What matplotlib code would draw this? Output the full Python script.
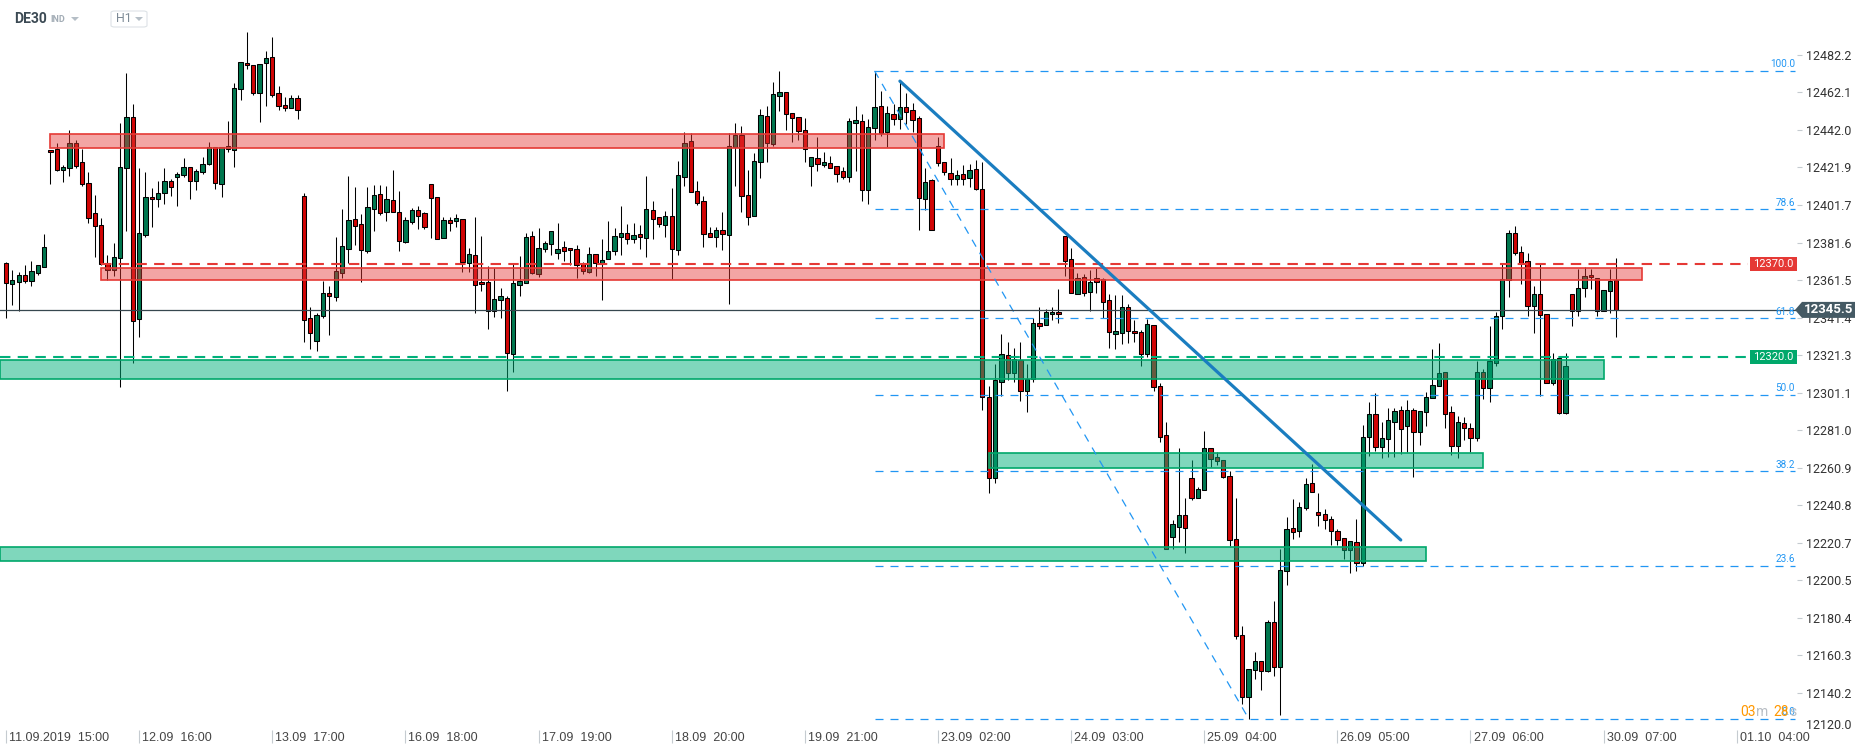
import matplotlib
matplotlib.use('Agg')
import matplotlib.pyplot as plt
from matplotlib.patches import Rectangle, Polygon, FancyBboxPatch
import numpy as np

# DE30 H1 candles, 11.09.2019 15:00 -> 30.09.2019 09:00
opens = [
    12370.5, 12359.2, 12360.6, 12364.0, 12360.8, 12365.1, 12368.7, 12431.3, 12431.8, 12420.4,
    12421.4, 12434.8, 12424.7, 12413.4, 12397.3, 12390.9, 12370.5, 12366.7, 12373.2, 12421.4,
    12448.8, 12340.4, 12385.5, 12405.9, 12404.8, 12408.0, 12414.5, 12417.0, 12417.7, 12422.1,
    12414.8, 12419.3, 12423.6, 12432.7, 12412.9, 12431.8, 12431.3, 12463.8, 12477.9, 12476.7,
    12461.7, 12477.8, 12481.0, 12461.7, 12455.2, 12454.0, 12459.0, 12406.6, 12341.0, 12329.0,
    12342.0, 12354.4, 12352.2, 12365.1, 12378.3, 12394.1, 12391.4, 12377.3, 12399.8, 12407.5,
    12397.8, 12404.3, 12397.8, 12382.1, 12392.8, 12399.1, 12397.5, 12412.9, 12405.9, 12384.2,
    12393.7, 12393.0, 12394.1, 12370.8, 12374.9, 12360.5, 12360.5, 12344.9, 12350.6, 12351.9,
    12322.0, 12359.0, 12360.1, 12385.0, 12364.9, 12378.2, 12381.0, 12375.8, 12379.1, 12378.5,
    12378.0, 12369.9, 12365.6, 12375.3, 12370.3, 12372.6, 12376.9, 12384.4, 12386.6, 12383.7,
    12386.0, 12383.9, 12398.9, 12395.3, 12391.2, 12395.7, 12377.8, 12417.0, 12435.9, 12409.1,
    12403.7, 12386.6, 12384.8, 12388.2, 12385.9, 12432.7, 12439.1, 12406.9, 12396.0, 12424.7,
    12449.3, 12434.7, 12460.1, 12462.4, 12450.9, 12448.8, 12441.8, 12422.7, 12426.8, 12423.1,
    12424.5, 12422.9, 12419.8, 12417.0, 12445.8, 12446.7, 12409.9, 12443.2, 12455.0, 12441.0,
    12450.7, 12448.1, 12454.5, 12452.6, 12448.6, 12405.1, 12415.0, 12433.5, 12425.0, 12419.1,
    12415.8, 12418.6, 12416.2, 12421.2, 12410.6, 12298.8, 12255.3, 12306.8, 12321.2, 12311.6,
    12318.7, 12301.9, 12308.5, 12338.5, 12337.6, 12343.2, 12344.2, 12385.3, 12373.0, 12354.1,
    12363.1, 12355.3, 12362.4, 12361.9, 12350.8, 12332.6, 12333.1, 12346.8, 12334.2, 12333.8,
    12321.7, 12337.5, 12304.9, 12278.5, 12223.7, 12229.3, 12235.5, 12255.3, 12244.5, 12248.7,
    12271.4, 12266.7, 12265.2, 12256.2, 12222.6, 12171.3, 12138.1, 12152.4, 12157.2, 12151.7,
    12178.2, 12153.9, 12205.7, 12228.4, 12226.8, 12239.5, 12252.6, 12237.1, 12236.2, 12233.1,
    12226.8, 12223.0, 12216.8, 12221.1, 12209.5, 12277.3, 12289.7, 12271.9, 12276.4, 12285.3,
    12291.9, 12283.0, 12291.9, 12279.9, 12290.8, 12298.2, 12304.8, 12312.0, 12290.6, 12272.4,
    12284.8, 12282.4, 12276.6, 12312.2, 12303.5, 12317.1, 12342.2, 12361.5, 12386.9, 12376.8,
    12371.5, 12347.5, 12354.2, 12343.5, 12306.2, 12319.9, 12290.4, 12354.2, 12344.8, 12357.0,
    12364.4, 12362.6, 12344.8, 12355.9, 12361.7,
]
highs = [
    12371.4, 12366.9, 12365.6, 12369.4, 12371.7, 12369.4, 12386.2, 12431.3, 12434.8, 12423.0,
    12442.0, 12436.6, 12431.6, 12419.3, 12407.1, 12394.6, 12374.9, 12381.2, 12445.6, 12472.6,
    12455.8, 12421.6, 12419.3, 12410.7, 12414.6, 12421.4, 12415.9, 12419.5, 12427.0, 12422.1,
    12421.3, 12427.3, 12435.4, 12432.7, 12432.7, 12447.0, 12467.0, 12478.3, 12494.6, 12476.7,
    12477.4, 12484.2, 12491.9, 12465.4, 12459.5, 12460.8, 12460.8, 12408.4, 12346.9, 12344.0,
    12361.2, 12358.5, 12384.4, 12399.6, 12417.5, 12411.6, 12396.9, 12411.6, 12412.7, 12412.5,
    12412.1, 12420.5, 12409.3, 12395.5, 12400.3, 12401.4, 12398.0, 12412.9, 12405.9, 12395.5,
    12395.3, 12396.9, 12394.4, 12378.7, 12395.5, 12385.1, 12369.0, 12367.8, 12357.4, 12353.1,
    12370.1, 12374.4, 12386.9, 12388.0, 12389.4, 12382.6, 12387.8, 12392.3, 12382.5, 12378.5,
    12380.3, 12371.2, 12379.1, 12375.3, 12383.5, 12393.2, 12389.2, 12401.4, 12391.6, 12392.3,
    12391.0, 12417.3, 12403.9, 12395.3, 12398.5, 12410.7, 12425.2, 12440.9, 12440.2, 12414.5,
    12406.6, 12389.8, 12390.0, 12398.0, 12440.2, 12445.7, 12444.1, 12420.5, 12429.5, 12453.3,
    12454.9, 12467.6, 12473.6, 12462.4, 12450.9, 12448.8, 12448.4, 12427.3, 12438.2, 12430.0,
    12428.3, 12422.9, 12422.4, 12448.6, 12454.8, 12450.5, 12448.1, 12473.7, 12463.0, 12455.0,
    12455.9, 12468.2, 12461.6, 12456.2, 12449.6, 12421.7, 12415.8, 12438.2, 12425.0, 12426.9,
    12420.3, 12423.3, 12423.6, 12425.9, 12425.0, 12304.5, 12316.5, 12332.8, 12328.1, 12324.8,
    12328.1, 12316.3, 12341.3, 12346.8, 12346.1, 12346.8, 12356.5, 12385.3, 12378.7, 12365.4,
    12365.0, 12366.9, 12367.8, 12362.6, 12354.1, 12353.6, 12353.6, 12348.4, 12339.9, 12334.7,
    12340.4, 12337.5, 12306.4, 12285.6, 12232.6, 12271.4, 12244.5, 12265.0, 12250.4, 12280.4,
    12271.4, 12269.3, 12265.2, 12259.0, 12244.4, 12175.9, 12152.8, 12162.2, 12157.2, 12179.0,
    12189.3, 12217.1, 12234.4, 12244.0, 12242.6, 12255.3, 12262.6, 12247.3, 12238.9, 12234.9,
    12228.0, 12223.0, 12221.7, 12233.5, 12283.9, 12296.2, 12300.8, 12285.3, 12292.8, 12293.0,
    12293.9, 12297.1, 12293.1, 12291.3, 12301.7, 12324.4, 12328.0, 12312.0, 12294.0, 12288.8,
    12288.1, 12285.1, 12317.9, 12314.0, 12337.1, 12344.4, 12370.8, 12388.4, 12390.4, 12380.0,
    12375.9, 12358.4, 12370.2, 12343.5, 12322.6, 12319.9, 12322.6, 12354.2, 12367.5, 12368.4,
    12367.5, 12362.6, 12356.4, 12367.5, 12373.1,
]
lows = [
    12341.3, 12348.1, 12344.9, 12359.7, 12358.5, 12364.2, 12368.7, 12413.2, 12420.2, 12414.3,
    12417.5, 12421.4, 12412.1, 12391.9, 12373.7, 12369.6, 12361.5, 12363.9, 12304.3, 12388.0,
    12316.8, 12331.1, 12384.8, 12389.8, 12400.9, 12402.5, 12406.8, 12401.4, 12417.0, 12405.2,
    12409.8, 12418.4, 12423.0, 12410.2, 12405.9, 12430.0, 12422.3, 12457.9, 12474.9, 12460.8,
    12446.5, 12455.0, 12459.9, 12452.5, 12452.4, 12453.6, 12448.1, 12328.5, 12324.3, 12323.6,
    12341.3, 12332.2, 12350.5, 12362.4, 12370.5, 12380.1, 12360.5, 12376.2, 12388.0, 12396.2,
    12393.2, 12397.8, 12377.3, 12381.6, 12391.4, 12388.9, 12388.9, 12384.1, 12383.7, 12384.2,
    12388.0, 12390.1, 12366.0, 12366.0, 12344.0, 12355.8, 12335.4, 12341.9, 12341.3, 12302.2,
    12312.4, 12353.1, 12360.1, 12364.8, 12363.3, 12376.7, 12374.9, 12372.6, 12371.9, 12369.4,
    12362.8, 12364.8, 12365.5, 12363.7, 12350.8, 12372.6, 12375.1, 12374.8, 12381.0, 12381.2,
    12378.3, 12373.9, 12383.5, 12390.0, 12384.8, 12362.1, 12374.9, 12412.1, 12408.6, 12401.8,
    12379.2, 12384.4, 12379.2, 12377.8, 12348.7, 12412.1, 12398.0, 12391.2, 12396.0, 12416.4,
    12424.8, 12433.4, 12452.2, 12442.0, 12435.7, 12436.6, 12425.0, 12412.1, 12420.0, 12421.9,
    12421.7, 12413.9, 12415.8, 12414.1, 12419.8, 12403.9, 12402.1, 12436.8, 12438.7, 12432.8,
    12444.8, 12442.7, 12445.1, 12441.0, 12388.1, 12399.2, 12388.4, 12422.9, 12417.9, 12412.7,
    12412.7, 12412.7, 12411.5, 12409.9, 12291.7, 12247.3, 12252.7, 12299.3, 12307.8, 12306.8,
    12296.7, 12290.5, 12307.1, 12335.2, 12337.3, 12340.1, 12338.3, 12363.8, 12354.6, 12353.9,
    12352.7, 12344.9, 12354.8, 12340.9, 12325.0, 12324.3, 12327.2, 12327.6, 12328.1, 12315.3,
    12320.1, 12302.1, 12274.7, 12217.3, 12217.3, 12220.8, 12214.9, 12243.3, 12244.5, 12248.7,
    12261.0, 12262.2, 12255.5, 12219.0, 12169.0, 12134.4, 12126.3, 12147.7, 12141.5, 12151.3,
    12149.0, 12128.1, 12198.1, 12222.6, 12223.9, 12238.4, 12247.7, 12229.7, 12228.0, 12219.5,
    12219.5, 12212.1, 12204.4, 12205.3, 12208.1, 12267.1, 12269.7, 12266.2, 12266.8, 12266.8,
    12268.1, 12269.1, 12255.7, 12272.8, 12283.0, 12298.2, 12304.8, 12282.2, 12267.7, 12265.9,
    12275.9, 12269.1, 12275.3, 12297.5, 12295.9, 12315.3, 12335.0, 12352.6, 12375.0, 12359.3,
    12342.2, 12333.3, 12299.3, 12306.2, 12305.3, 12289.5, 12289.5, 12337.1, 12342.2, 12352.6,
    12356.8, 12342.0, 12344.8, 12343.9, 12331.0,
]
closes = [
    12359.7, 12361.4, 12364.0, 12360.8, 12366.2, 12369.4, 12379.1, 12430.2, 12420.7, 12422.1,
    12434.8, 12422.9, 12412.9, 12395.0, 12390.3, 12369.9, 12366.7, 12373.7, 12422.0, 12448.8,
    12339.4, 12386.6, 12405.9, 12404.8, 12408.0, 12414.5, 12411.2, 12418.2, 12422.1, 12414.5,
    12419.8, 12423.6, 12432.7, 12413.4, 12432.7, 12433.2, 12464.3, 12478.3, 12476.7, 12461.7,
    12477.4, 12480.4, 12460.6, 12454.7, 12454.0, 12459.0, 12452.5, 12339.9, 12332.9, 12342.8,
    12354.4, 12352.8, 12366.2, 12379.6, 12393.7, 12390.3, 12377.4, 12400.5, 12407.1, 12397.3,
    12404.8, 12398.0, 12382.3, 12393.7, 12399.1, 12396.0, 12390.1, 12405.7, 12383.7, 12393.7,
    12392.3, 12394.8, 12371.0, 12375.3, 12359.0, 12359.2, 12345.1, 12351.2, 12353.0, 12322.6,
    12359.9, 12361.0, 12384.6, 12365.5, 12378.5, 12381.4, 12387.8, 12378.0, 12377.3, 12377.5,
    12369.4, 12366.2, 12375.3, 12370.8, 12372.3, 12377.1, 12385.1, 12386.6, 12383.7, 12385.5,
    12384.4, 12399.4, 12394.1, 12391.4, 12395.7, 12378.3, 12417.7, 12434.8, 12408.6, 12402.7,
    12386.0, 12384.4, 12388.2, 12386.4, 12433.2, 12439.1, 12406.4, 12395.5, 12425.2, 12449.9,
    12435.2, 12461.1, 12462.4, 12450.4, 12448.3, 12441.3, 12431.6, 12427.3, 12423.6, 12425.0,
    12421.7, 12418.6, 12417.0, 12446.7, 12447.2, 12409.9, 12443.4, 12454.5, 12440.6, 12451.0,
    12447.7, 12454.5, 12451.7, 12447.4, 12405.6, 12414.3, 12388.4, 12424.5, 12419.3, 12415.8,
    12417.9, 12415.8, 12420.7, 12410.3, 12298.8, 12255.1, 12308.0, 12322.0, 12311.6, 12319.1,
    12301.9, 12308.5, 12338.5, 12336.6, 12344.2, 12344.2, 12343.2, 12371.8, 12354.6, 12362.6,
    12354.6, 12360.7, 12360.2, 12349.8, 12333.8, 12334.2, 12346.8, 12334.2, 12333.1, 12321.7,
    12337.8, 12304.0, 12277.5, 12217.3, 12230.5, 12235.5, 12228.8, 12244.5, 12249.7, 12271.4,
    12265.7, 12264.3, 12256.0, 12221.9, 12170.8, 12138.1, 12152.8, 12157.2, 12152.1, 12178.2,
    12154.1, 12206.2, 12228.0, 12226.2, 12239.9, 12252.2, 12247.7, 12235.3, 12232.6, 12226.8,
    12221.9, 12216.8, 12221.7, 12209.5, 12277.1, 12289.7, 12271.9, 12276.6, 12286.4, 12291.3,
    12281.7, 12291.9, 12279.9, 12291.3, 12298.9, 12305.3, 12311.7, 12289.7, 12272.6, 12285.3,
    12282.0, 12276.8, 12312.2, 12303.7, 12317.9, 12342.4, 12362.2, 12386.6, 12376.2, 12370.9,
    12347.5, 12354.2, 12343.0, 12306.2, 12319.3, 12290.2, 12315.5, 12344.8, 12357.0, 12363.9,
    12363.3, 12344.8, 12356.4, 12360.8, 12345.5,
]

x_ticks = [0, 21, 42, 63, 84, 105, 126, 147, 168, 189, 210, 231, 252, 273]
x_labels = ['11.09.2019  15:00', '12.09  16:00', '13.09  17:00', '16.09  18:00',
            '17.09  19:00', '18.09  20:00', '19.09  21:00', '23.09  02:00',
            '24.09  03:00', '25.09  04:00', '26.09  05:00', '27.09  06:00',
            '30.09  07:00', '01.10  04:00']
y_ticks = [12482.2, 12462.1, 12442.0, 12421.9, 12401.7, 12381.6, 12361.5, 12341.4,
           12321.3, 12301.1, 12281.0, 12260.9, 12240.8, 12220.7, 12200.5, 12180.4,
           12160.3, 12140.2]
y_bottom_label = 12120.0

# zones: (start bar, end bar, low, high)
red_zones = [(7, 148, 12432.2, 12439.7), (15, 258, 12361.4, 12367.8)]
green_zones = [(-0.9, 252, 12308.3, 12318.6), (155, 233, 12260.8, 12269.0),
               (-0.9, 224, 12210.7, 12218.5)]
res_level = 12370.0
sup_level = 12320.0
trend_x = [141, 220]
trend_y = [12468.2, 12222.1]
fib_ratios = [0.0, 23.6, 38.2, 50.0, 61.8, 78.6, 100.0]
fib_hi_bar, fib_lo_bar = 137, 196

RED = '#d10505'
GREEN = '#00774f'
FIB = '#2196f3'

plt.rcParams['font.family'] = ['Roboto', 'DejaVu Sans']

W, H = 1866, 756
fig = plt.figure(figsize=(W / 100, H / 100), dpi=100)
ax = fig.add_axes([0, 26 / H, 1797 / W, 730 / H])
x0, x1 = -0.946, 282.5
y0, y1 = 12120.2, 12511.7
ax.set_xlim(x0, x1)
ax.set_ylim(y0, y1)
ux = (x1 - x0) / 1797   # data units per pixel
uy = (y1 - y0) / 730


def x_at(px):
    return x0 + px * ux


def y_at(py):
    return y1 - py * uy


o = np.array(opens)
h = np.array(highs)
l = np.array(lows)
c = np.array(closes)
x = np.arange(len(c))
cols = np.where(c >= o, GREEN, RED)

# candles
ax.vlines(x, l, h, color='black', lw=0.75, zorder=2)
ax.bar(x, np.maximum(np.abs(c - o), 0.6), bottom=np.minimum(o, c), width=0.68,
       color=cols, edgecolor='black', linewidth=0.75, zorder=3)

# zones
for a, b, lo, hi in red_zones:
    ax.add_patch(Rectangle((a, lo), b - a, hi - lo, fc=(229 / 255, 57 / 255, 53 / 255, 0.45),
                           ec='#e53935', lw=1.2, zorder=4))
for a, b, lo, hi in green_zones:
    ax.add_patch(Rectangle((a, lo), b - a, hi - lo, fc=(0, 176 / 255, 122 / 255, 0.5),
                           ec='#00a86b', lw=1.2, zorder=4))

# horizontal levels
ax.plot([15, x_at(1748)], [res_level] * 2, color='#e53935', lw=1.5, dashes=(5, 3.5), zorder=5)
ax.plot([x0, x_at(1748)], [sup_level] * 2, color='#00b07a', lw=1.5, dashes=(5, 3.5), zorder=5)

# fibonacci
fib_hi = highs[fib_hi_bar]
fib_lo = lows[fib_lo_bar]
fx_end = x_at(1795)
for r in fib_ratios:
    lvl = fib_lo + (fib_hi - fib_lo) * r / 100
    ax.plot([fib_hi_bar, fx_end], [lvl, lvl], color=FIB, lw=0.9, dashes=(6.4, 5.6), zorder=5)
    ax.annotate(f'{r:.1f}', xy=(fx_end, lvl), xytext=(0, 1.2), textcoords='offset points',
                ha='right', va='bottom', fontsize=7.2, color=FIB, zorder=7)
ax.plot([fib_hi_bar, fib_lo_bar], [fib_hi, fib_lo], color=FIB, lw=0.9, dashes=(6.4, 5.6), zorder=5)

# trend line
ax.plot(trend_x, trend_y, color='#1a7dc0', lw=2.3, solid_capstyle='round', zorder=6)

# current price line
last = closes[-1]
ax.plot([x0, fx_end], [last, last], color='#37474f', lw=0.9, zorder=5)

# level tags
for lvl, col in [(res_level, '#e53935'), (sup_level, '#00a86b')]:
    ax.add_patch(Rectangle((x_at(1750), lvl - 7 * uy), 47 * ux, 14 * uy, fc=col, ec='none',
                           zorder=8, clip_on=False))
    ax.text(x_at(1773.5), lvl, f'{lvl:.1f}', ha='center', va='center', color='white',
            fontsize=8, zorder=9, clip_on=False)

tag = Polygon([(x_at(1795), last), (x_at(1802), last + 8 * uy), (x_at(1855), last + 8 * uy),
               (x_at(1855), last - 8 * uy), (x_at(1802), last - 8 * uy)],
              closed=True, fc='#455a64', ec='none', zorder=10, clip_on=False)
ax.add_patch(tag)
ax.text(x_at(1828.5), last, f'{last:.1f}', ha='center', va='center', color='white',
        fontsize=9.5, fontweight='bold', zorder=11, clip_on=False)

# countdown overlay
for px, s, col in [(1740, '03', '#ff9800'), (1756, 'm', '#b8bec4'),
                   (1773, '28', '#ff9800'), (1789, 's', '#b8bec4')]:
    ax.text(x_at(px), y_at(712), s, ha='left', va='center', color=col, fontsize=10,
            zorder=9, clip_on=False)

# axes styling
for s in ax.spines.values():
    s.set_visible(False)
ax.yaxis.tick_right()
ax.set_yticks(y_ticks)
ax.set_yticklabels([f'{v:.1f}' for v in y_ticks])
ax.tick_params(axis='y', direction='out', length=3.6, width=0.8, color='#c5cbd0', pad=3,
               labelsize=9, labelcolor='#333333')
ax.text(x_at(1806), y_at(725), f'{y_bottom_label:.1f}', ha='left', va='center',
        fontsize=9, color='#333333', clip_on=False)

ax.set_xticks(x_ticks)
ax.tick_params(axis='x', direction='out', length=9.4, width=0.8, color='#c5cbd0',
               labelbottom=False)
for xt, lbl in zip(x_ticks, x_labels):
    ax.annotate(lbl, xy=(xt, 0), xycoords=('data', 'axes fraction'), xytext=(2.2, -6),
                textcoords='offset points', ha='left', va='center', fontsize=9,
                family=['Liberation Sans', 'DejaVu Sans'], color='#444444')

# header
fig.text(14 / W, 1 - 19 / H, 'DE30', fontsize=10, fontweight='bold', color='#3c4a54', va='center')
fig.text(50 / W, 1 - 19 / H, 'IND', fontsize=6.5, fontweight='bold', color='#a3adb6', va='center')
for tx in (71, 135):
    fig.add_artist(Polygon([(tx / W, 1 - 17 / H), ((tx + 8) / W, 1 - 17 / H),
                            ((tx + 4) / W, 1 - 21 / H)], closed=True,
                           transform=fig.transFigure, fc='#b5bec6', ec='none'))
fig.add_artist(FancyBboxPatch((111 / W, 1 - 27 / H), 36 / W, 16 / H,
                              boxstyle='round,pad=0,rounding_size=0.002',
                              transform=fig.transFigure, fc='none', ec='#dde2e6', lw=0.8))
fig.text(116 / W, 1 - 19 / H, 'H1', fontsize=9, color='#7d8a96', va='center')

fig.savefig('out.png', dpi=100, facecolor='white')
